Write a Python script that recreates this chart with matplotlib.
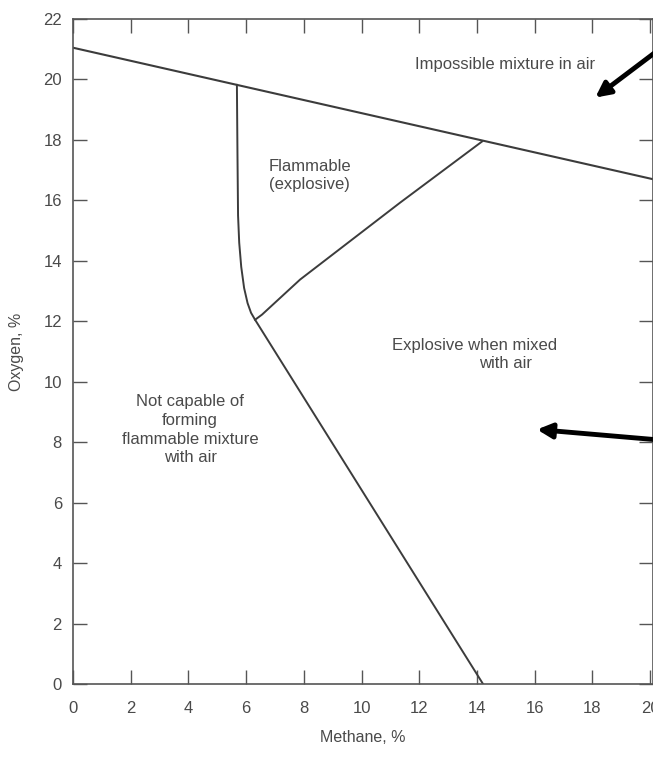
import numpy as np
import matplotlib
matplotlib.use('Agg')
import matplotlib.pyplot as plt

# air line (max O2 for a methane/air mixture)
air_ch4 = [0.0, 20.1]
air_o2 = [21.05, 16.7]

# lower limit: left boundary of flammable zone continuing down to the x axis
lower_ch4 = [5.68, 5.70, 5.72, 5.76, 5.83, 5.93, 6.05, 6.17, 6.31, 14.21]
lower_o2 = [19.82, 17.5, 15.5, 14.6, 13.8, 13.1, 12.6, 12.28, 12.05, 0.0]

# upper limit: right boundary of flammable zone up to the air line
upper_ch4 = [6.31, 6.55, 7.87, 9.6, 11.33, 14.18]
upper_o2 = [12.05, 12.22, 13.38, 14.65, 15.92, 17.95]

x_ticks = list(range(0, 21, 2))
y_ticks = list(range(0, 23, 2))

line_col = '#3c3c3c'
text_col = '#4a4a4a'
plt.rcParams['font.family'] = ['Liberation Sans', 'DejaVu Sans']

fig = plt.figure(figsize=(6.53, 7.59), dpi=100)
ax = fig.add_axes([73 / 653, 75 / 759, 580 / 653, 665 / 759])

ax.plot(air_ch4, air_o2, color=line_col, lw=1.5)
ax.plot(lower_ch4, lower_o2, color=line_col, lw=1.4)
ax.plot(upper_ch4, upper_o2, color=line_col, lw=1.4)

ax.set_xlim(0, 20.1)
ax.set_ylim(0, 22)
ax.set_xticks(x_ticks)
ax.set_yticks(y_ticks)
ax.set_xticklabels([str(v) for v in x_ticks])
ax.set_yticklabels([str(v) for v in y_ticks])
ax.tick_params(direction='in', length=10, width=1, color='#555555',
               top=True, right=True, labelsize=12, labelcolor=text_col)
ax.tick_params(axis='x', pad=12)
ax.tick_params(axis='y', pad=8)
for s in ax.spines.values():
    s.set_color('#555555')
    s.set_linewidth(1.2)

ax.set_xlabel('Methane, %', fontsize=11.5, color=text_col, labelpad=10)
ax.set_ylabel('Oxygen, %', fontsize=11.5, color=text_col, labelpad=14)

ax.text(14.96, 20.5, 'Impossible mixture in air', fontsize=12, color=text_col,
        ha='center', va='center')
ax.text(8.21, 16.82, 'Flammable\n(explosive)', fontsize=12, color=text_col,
        ha='center', va='center', linespacing=1.3)
ax.text(13.9, 11.2, 'Explosive when mixed', fontsize=12, color=text_col,
        ha='center', va='center')
ax.text(15.0, 10.6, 'with air', fontsize=12, color=text_col,
        ha='center', va='center')
ax.text(4.06, 8.41, 'Not capable of\nforming\nflammable mixture\nwith air', fontsize=12,
        color=text_col, ha='center', va='center', linespacing=1.3)

# the two heavy arrows coming in from the right
arrow = dict(arrowstyle='-|>', lw=3.5, color='black', mutation_scale=22, shrinkA=0, shrinkB=0)
ax.annotate('', xy=(18.1, 19.4), xytext=(20.6, 21.2), arrowprops=arrow)
ax.annotate('', xy=(16.08, 8.42), xytext=(20.6, 8.05), arrowprops=arrow)

fig.savefig('out.png', dpi=100)
